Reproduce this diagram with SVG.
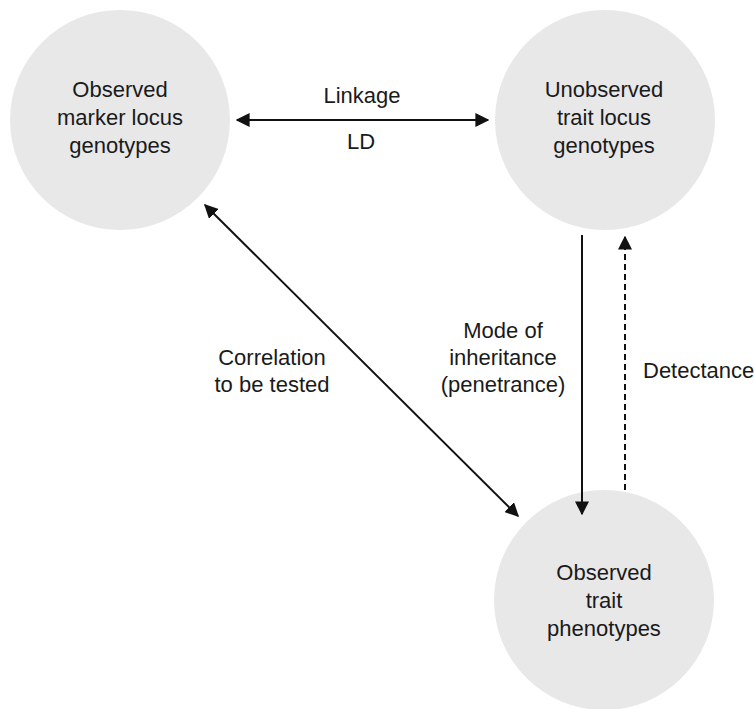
<svg xmlns="http://www.w3.org/2000/svg" width="754" height="709" viewBox="0 0 754 709">
<style>
.node{fill:#e8e8e8}
text{font-family:"Liberation Sans",Arial,sans-serif;font-size:22px;fill:#1a1a1a;text-anchor:middle}
.c{stroke:#111;stroke-width:2;fill:none}
</style>
<defs>
<marker id="ah" viewBox="0 0 10 10" refX="9" refY="5" markerWidth="7" markerHeight="7" orient="auto-start-reverse" markerUnits="strokeWidth"><path d="M0,0 L10,5 L0,10 z" fill="#111"/></marker>
</defs>
<rect width="754" height="709" fill="#fff"/>
<g id="marker">
<circle class="node" cx="120" cy="120" r="110"/>
<text x="120" y="97">Observed</text>
<text x="120" y="125">marker locus</text>
<text x="120" y="153">genotypes</text>
</g>
<g id="traitlocus">
<circle class="node" cx="605" cy="120" r="110"/>
<text x="604" y="97">Unobserved</text>
<text x="604" y="125">trait locus</text>
<text x="604" y="153">genotypes</text>
</g>
<g id="phenotypes">
<circle class="node" cx="604" cy="600" r="110"/>
<text x="604" y="580">Observed</text>
<text x="604" y="608">trait</text>
<text x="604" y="636">phenotypes</text>
</g>
<g id="connectors">
<line class="c" x1="237" y1="120" x2="488" y2="120" marker-start="url(#ah)" marker-end="url(#ah)"/>
<line class="c" x1="205" y1="205" x2="518" y2="516" marker-start="url(#ah)" marker-end="url(#ah)"/>
<line class="c" x1="582" y1="235" x2="582" y2="514" marker-end="url(#ah)"/>
<line class="c" x1="625" y1="490" x2="625" y2="237" stroke-dasharray="6,4" marker-end="url(#ah)"/>
<text x="362" y="103">Linkage</text>
<text x="361" y="149">LD</text>
<text x="503" y="338">Mode of</text>
<text x="503" y="365">inheritance</text>
<text x="503" y="392">(penetrance)</text>
<text x="272" y="365">Correlation</text>
<text x="272" y="392">to be tested</text>
<text x="643" y="378" style="text-anchor:start">Detectance</text>
</g>
</svg>
